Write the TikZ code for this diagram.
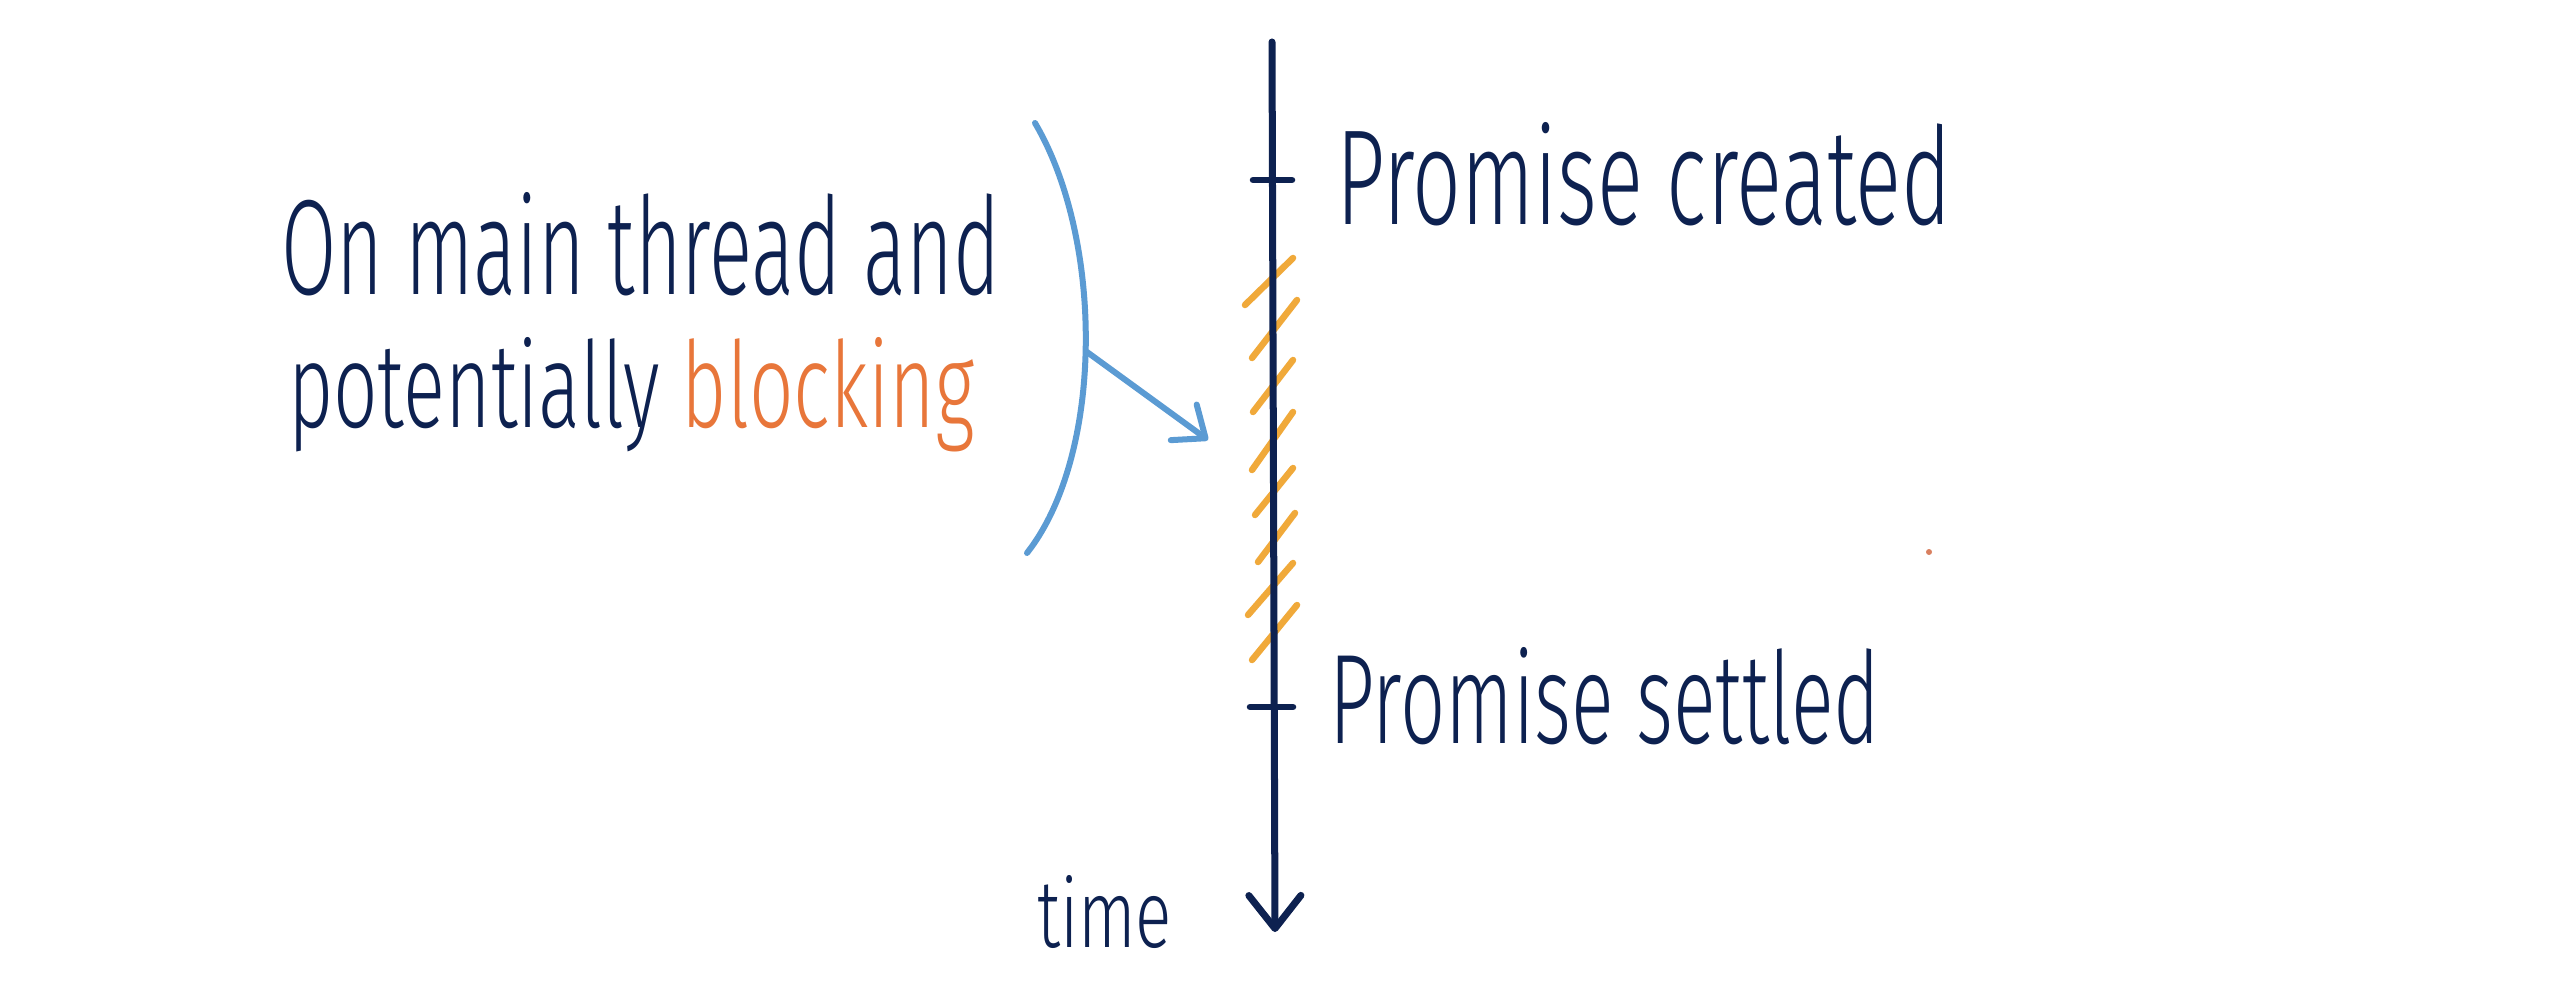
\documentclass[tikz,border=0pt]{standalone}
\usepackage{fontspec}
\setmainfont{Fira Sans Light}
\usepackage{graphicx}
\usetikzlibrary{arrows.meta}
\definecolor{navy}{HTML}{0D2150}
\definecolor{brblue}{HTML}{5B9BD3}
\definecolor{hatchc}{HTML}{F0A93A}
\definecolor{blk}{HTML}{E8763A}
\definecolor{dotc}{HTML}{D98060}
\begin{document}
\begin{tikzpicture}[x=0.01cm,y=-0.01cm,
  lbl/.style={inner sep=0pt, outer sep=0pt, anchor=base west, text=navy},
  timeline/.style={draw=navy, line width=0.07cm, line cap=round, -{Straight Barb[length=0.33cm,width=0.52cm,round]}},
  tickmark/.style={draw=navy, line width=0.065cm, line cap=round},
  hatchline/.style={draw=hatchc, line width=0.065cm, line cap=round},
  bracketline/.style={draw=brblue, line width=0.06cm, line cap=round},
  pointer/.style={draw=brblue, line width=0.06cm, line cap=round, -{Straight Barb[length=0.27cm,width=0.44cm,round]}}]
\fill[white] (0,0) rectangle (2560,985);
\useasboundingbox (0,0) rectangle (2560,985);

% hatches (blocking period)
\draw[hatchline] (1245,305) -- (1293,258);
\draw[hatchline] (1252,358) -- (1297,300);
\draw[hatchline] (1253,412) -- (1293,360);
\draw[hatchline] (1252,470) -- (1293,412);
\draw[hatchline] (1255,515) -- (1293,468);
\draw[hatchline] (1258,562) -- (1295,513);
\draw[hatchline] (1248,615) -- (1293,563);
\draw[hatchline] (1252,660) -- (1297,605);

% time axis
\coordinate (ttop) at (1272,42);
\coordinate (tbot) at (1275,932);
\draw[timeline] (ttop) -- (tbot);
\draw[tickmark] (1253,180) -- (1292,180);
\draw[tickmark] (1250,707) -- (1293,707);

% labels
\node[lbl] (created) at (1336,225) {\resizebox{6.15cm}{1.02cm}{Promise created}};
\node[lbl] (settled) at (1329,743) {\resizebox{5.51cm}{0.96cm}{Promise settled}};
\node[lbl] (time) at (1037,947) {\resizebox{1.35cm}{0.72cm}{time}};
\node[lbl] (line1) at (281,295) {\resizebox{7.19cm}{1.02cm}{On main thread and}};
\node[lbl] (line2) at (288,427) {\resizebox{6.86cm}{0.90cm}{potentially \textcolor{blk}{blocking}}};

% bracket and pointer
\coordinate (btop) at (1035,123);
\coordinate (bbot) at (1027,553);
\coordinate (bmid) at (1087,352);
\coordinate (atip) at (1208,440);
\draw[bracketline] (btop) .. controls (1104,240) and (1104,455) .. (bbot);
\draw[pointer] (bmid) -- (atip);

% stray dot
\fill[dotc] (1929,552) circle (3);
\end{tikzpicture}
\end{document}
